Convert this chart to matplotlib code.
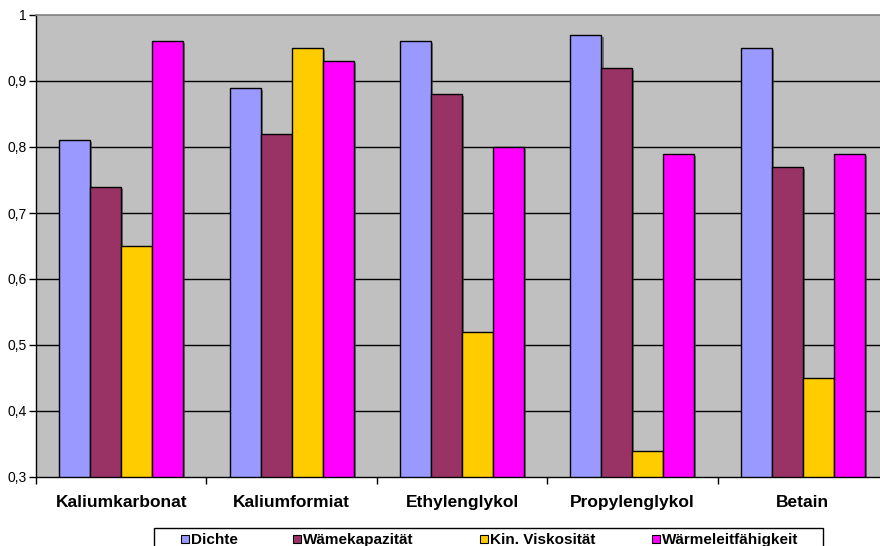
import matplotlib
matplotlib.use("Agg")
import matplotlib.pyplot as plt
import matplotlib.patheffects as pe
from matplotlib.patches import Rectangle
import numpy as np
from matplotlib.ticker import FixedLocator, FuncFormatter

plt.rcParams['font.family'] = ['Liberation Sans', 'DejaVu Sans']

categories = ["Kaliumkarbonat", "Kaliumformiat", "Ethylenglykol", "Propylenglykol", "Betain"]
series_names = ["Dichte", "Wämekapazität", "Kin. Viskosität", "Wärmeleitfähigkeit"]
dichte = [0.81, 0.89, 0.96, 0.97, 0.95]
waermekapazitaet = [0.74, 0.82, 0.88, 0.92, 0.77]
viskositaet = [0.65, 0.95, 0.52, 0.34, 0.45]
waermeleitfaehigkeit = [0.96, 0.93, 0.80, 0.79, 0.79]
y_ticks = [0.3, 0.4, 0.5, 0.6, 0.7, 0.8, 0.9, 1.0]

series = [dichte, waermekapazitaet, viskositaet, waermeleitfaehigkeit]
colors = ["#9999FF", "#993366", "#FFCC00", "#FF00FF"]

W, H = 880, 546
fig = plt.figure(figsize=(W / 100, H / 100), dpi=100)


def fx(px):
    return px / W


def fy(py):
    return 1 - py / H


# plot area (extends slightly past the right edge of the canvas)
left, right, top, bottom = 36, 888, 15, 477
ax = fig.add_axes([fx(left), fy(bottom), (right - left) / W, (bottom - top) / H])
ax.set_facecolor("#C0C0C0")

n = len(series)
gap = 1.5
bw = 1.0 / (n + gap)
x = np.arange(len(categories))
shadow = [pe.SimplePatchShadow(offset=(1.5, -1.5), shadow_rgbFace="#404040", alpha=0.6), pe.Normal()]
for i, (vals, c) in enumerate(zip(series, colors)):
    pos = x - 0.5 + bw * gap / 2 + bw * i + bw / 2
    bars = ax.bar(pos, np.array(vals) - 0.3, bottom=0.3, width=bw, color=c,
                  edgecolor="black", linewidth=1.0, zorder=3, label=series_names[i])
    for b in bars:
        b.set_path_effects(shadow)

ax.set_xlim(-0.5, len(categories) - 0.5)
ax.set_ylim(0.3, 1.0)
ax.yaxis.set_major_locator(FixedLocator(y_ticks))
ax.yaxis.set_major_formatter(FuncFormatter(lambda v, p: ("%g" % round(v, 1)).replace(".", ",")))
for v in y_ticks[1:-1]:
    ax.axhline(v, color="black", linewidth=1.0, zorder=1)

ax.xaxis.set_major_locator(FixedLocator(np.arange(len(categories) + 1) - 0.5))
ax.xaxis.set_major_formatter(FuncFormatter(lambda v, p: ""))
ax.xaxis.set_minor_locator(FixedLocator(x))
ax.set_xticklabels(categories, minor=True, fontsize=12.5, fontweight="bold")
ax.tick_params(axis="x", which="minor", length=0, pad=13)
ax.tick_params(axis="x", which="major", direction="out", length=5, width=1, color="black")
ax.tick_params(axis="y", direction="out", length=5, width=1, labelsize=10, pad=2, color="black")

ax.spines["right"].set_visible(False)
ax.spines["top"].set_color("#808080")
ax.spines["top"].set_linewidth(1.2)
for s in ["left", "bottom"]:
    ax.spines[s].set_color("black")
    ax.spines[s].set_linewidth(1.0)

# legend box along the bottom edge
fig.add_artist(Rectangle((fx(154), fy(560)), (823 - 154) / W, (560 - 528) / H,
                         transform=fig.transFigure, facecolor="white",
                         edgecolor="black", linewidth=1.0))
legend_x = [181, 293, 480, 652]
for name, c, lx in zip(series_names, colors, legend_x):
    fig.add_artist(Rectangle((fx(lx), fy(543)), 8 / W, 8 / H, transform=fig.transFigure,
                             facecolor=c, edgecolor="black", linewidth=0.8))
    fig.text(fx(lx + 10), fy(544), name, fontsize=11, fontweight="bold",
             ha="left", va="baseline")

fig.savefig("out.png", dpi=100)
